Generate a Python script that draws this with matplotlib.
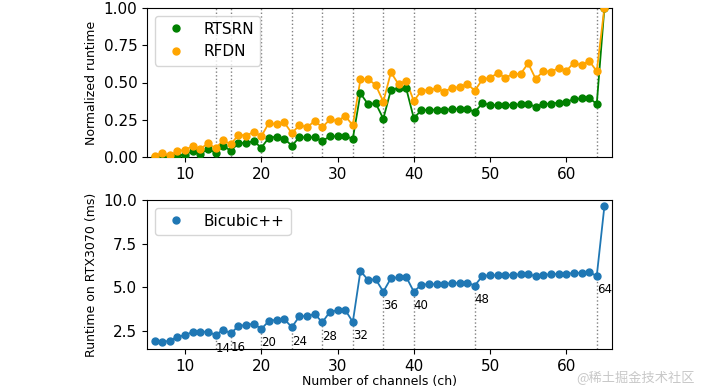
import matplotlib
matplotlib.use("Agg")
import matplotlib.pyplot as plt
import numpy as np

channels = list(range(6, 66))

rtsrn = [0.000, 0.005, 0.000, 0.012, 0.016, 0.040, 0.020, 0.054, 0.029, 0.074,
         0.042, 0.092, 0.096, 0.105, 0.063, 0.130, 0.136, 0.123, 0.076, 0.132,
         0.132, 0.132, 0.107, 0.139, 0.139, 0.139, 0.123, 0.427, 0.354, 0.360,
         0.257, 0.450, 0.461, 0.461, 0.260, 0.315, 0.315, 0.318, 0.318, 0.320,
         0.322, 0.324, 0.302, 0.360, 0.351, 0.347, 0.349, 0.349, 0.354, 0.354,
         0.338, 0.356, 0.358, 0.365, 0.371, 0.387, 0.394, 0.396, 0.356, 1.000]

rfdn = [0.009, 0.025, 0.011, 0.038, 0.049, 0.072, 0.054, 0.092, 0.058, 0.112,
        0.085, 0.150, 0.143, 0.168, 0.139, 0.230, 0.219, 0.233, 0.159, 0.215,
        0.199, 0.242, 0.199, 0.253, 0.242, 0.275, 0.213, 0.521, 0.523, 0.483,
        0.371, 0.568, 0.488, 0.512, 0.376, 0.445, 0.450, 0.461, 0.438, 0.465,
        0.468, 0.492, 0.445, 0.521, 0.532, 0.562, 0.532, 0.557, 0.557, 0.629,
        0.523, 0.579, 0.570, 0.599, 0.577, 0.633, 0.615, 0.646, 0.575, 1.000]

bicubic = [1.91, 1.85, 1.93, 2.16, 2.24, 2.44, 2.44, 2.44, 2.25, 2.56,
           2.35, 2.77, 2.83, 2.90, 2.60, 3.06, 3.13, 3.17, 2.70, 3.33,
           3.34, 3.46, 2.98, 3.59, 3.67, 3.69, 3.00, 5.93, 5.41, 5.45,
           4.74, 5.51, 5.57, 5.59, 4.74, 5.14, 5.17, 5.17, 5.20, 5.22,
           5.24, 5.26, 5.09, 5.64, 5.68, 5.68, 5.68, 5.70, 5.74, 5.74,
           5.63, 5.70, 5.74, 5.76, 5.78, 5.80, 5.83, 5.86, 5.64, 9.63]

marked_channels = [14, 16, 20, 24, 28, 32, 36, 40, 48, 64]

W, H = 702, 387
fig = plt.figure(figsize=(W / 100, H / 100), dpi=100)
left = 147 / W
width = (612 - 147) / W
ax1 = fig.add_axes([left, 1 - 157 / H, width, (157 - 8) / H])
ax2 = fig.add_axes([left, 1 - 349 / H, width, (349 - 200) / H])

msz = 5
lw = 1.3

# Top panel
for c in marked_channels:
    ax1.axvline(c, color="grey", linestyle=":", linewidth=1.0, zorder=1)
ax1.plot(channels, rtsrn, color="green", linewidth=lw, zorder=2)
ax1.plot(channels, rtsrn, "o", color="green", markersize=msz, label="RTSRN", zorder=3)
ax1.plot(channels, rfdn, color="orange", linewidth=lw, zorder=2)
ax1.plot(channels, rfdn, "o", color="orange", markersize=msz, label="RFDN", zorder=3)
ax1.set_xlim(5, 66)
ax1.set_ylim(0, 1.0)
ax1.set_yticks([0, 0.25, 0.5, 0.75, 1.0])
ax1.set_yticklabels(["0.00", "0.25", "0.50", "0.75", "1.00"])
ax1.set_ylabel("Normalized runtime", fontsize=9)
ax1.tick_params(labelsize=11)
ax1.legend(loc="upper left", fontsize=11)

# Bottom panel
ymin2 = 1.45
val = dict(zip(channels, bicubic))
for c in marked_channels:
    ax2.vlines(c, ymin2, val[c], colors="grey", linestyles=":", linewidth=1.0, zorder=1)
    ax2.text(c, val[c] - 0.8, str(c), ha="left", va="center", fontsize=8.5)
ax2.plot(channels, bicubic, color="#1f77b4", linewidth=lw, zorder=2)
ax2.plot(channels, bicubic, "o", color="#1f77b4", markersize=msz, label="Bicubic++", zorder=3)
ax2.set_xlim(5, 66)
ax2.set_ylim(ymin2, 10.0)
ax2.set_yticks([2.5, 5.0, 7.5, 10.0])
ax2.set_ylabel("Runtime on RTX3070 (ms)", fontsize=9)
ax2.set_xlabel("Number of channels (ch)", fontsize=9, labelpad=1)
ax2.tick_params(labelsize=11)
ax2.legend(loc="upper left", fontsize=11)

fig.text(0.99, 0.004, "@稀土掘金技术社区", ha="right", va="bottom", fontsize=9.5,
         color="#c8c8c8", family=["Noto Sans CJK SC", "DejaVu Sans"])

fig.savefig("out.png", dpi=100)
